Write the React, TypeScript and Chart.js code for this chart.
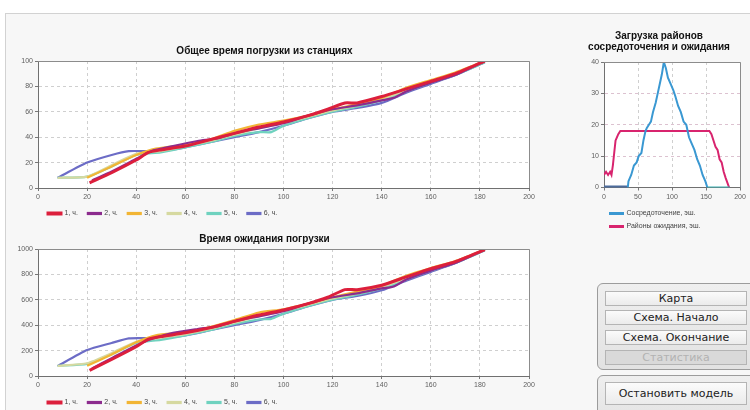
import React, { useEffect, useRef } from "react";
import { Chart, registerables } from "chart.js";

Chart.register(...registerables);
Chart.defaults.font.family = "'Liberation Sans', Arial, sans-serif";

// ---------- data ----------
const seriesLabels = ["1, ч.", "2, ч.", "3, ч.", "4, ч.", "5, ч.", "6, ч."];
const seriesColors = ["#dc1f3c", "#8c2c8e", "#f2b534", "#d6d9a0", "#6fd2bf", "#6c6cc6"];
const seriesWidths = [3, 2.2, 2.2, 2.2, 2.2, 2.2];

// Общее время погрузки из станциях (0..100)
const total1: [number, number][] = [[21, 4], [30, 12], [40, 22], [45, 28], [50, 30], [60, 33], [70, 38], [80, 43], [90, 48], [100, 52], [110, 57], [118, 62], [125, 67], [130, 67], [140, 72], [150, 78], [160, 84], [170, 90], [182, 100]];
const total2: [number, number][] = [[22, 6], [30, 13], [40, 23], [46, 29], [55, 33], [65, 37], [73, 39], [80, 43], [90, 47], [100, 51], [110, 57], [120, 62], [130, 65], [140, 69], [145, 71], [150, 76], [160, 83], [170, 89], [182, 100]];
const total3: [number, number][] = [[20, 8], [30, 17], [40, 26], [48, 31], [60, 34], [70, 38], [80, 45], [90, 50], [100, 53], [110, 57], [120, 62], [130, 66], [140, 71], [150, 79], [160, 85], [170, 91], [182, 100]];
const total4: [number, number][] = [[8, 8], [20, 9], [30, 18], [40, 27], [50, 29], [60, 33], [70, 37], [80, 42], [90, 47], [100, 51], [110, 56], [120, 61], [130, 65], [140, 70], [150, 77], [160, 84], [170, 90], [182, 100]];
const total5: [number, number][] = [[8, 8], [20, 9], [30, 17], [40, 26], [50, 28], [60, 32], [70, 36], [80, 41], [90, 44], [95, 44], [100, 49], [110, 55], [120, 60], [130, 64], [140, 69], [150, 76], [160, 83], [170, 89], [182, 99]];
const total6: [number, number][] = [[8, 8], [20, 20], [30, 26], [37, 29], [44, 29], [50, 29], [60, 32], [70, 36], [80, 40], [90, 44], [100, 49], [110, 55], [120, 60], [130, 63], [140, 67], [150, 75], [160, 82], [170, 89], [182, 99]];

// Время ожидания погрузки (0..1000)
const wait1: [number, number][] = [[21, 45], [30, 130], [40, 230], [45, 290], [50, 310], [60, 340], [70, 380], [80, 430], [90, 480], [100, 520], [110, 570], [118, 620], [125, 680], [130, 680], [140, 715], [150, 780], [160, 845], [170, 900], [182, 995]];
const wait2: [number, number][] = [[22, 60], [30, 140], [40, 240], [46, 290], [55, 340], [65, 370], [73, 390], [80, 430], [90, 470], [100, 510], [110, 570], [120, 620], [130, 650], [140, 690], [145, 705], [150, 760], [160, 830], [170, 890], [182, 995]];
const wait3: [number, number][] = [[20, 80], [30, 170], [40, 265], [48, 320], [60, 345], [70, 385], [80, 440], [90, 500], [100, 525], [110, 570], [120, 620], [130, 665], [140, 710], [150, 790], [160, 850], [170, 905], [182, 995]];
const wait4: [number, number][] = [[8, 80], [20, 100], [30, 180], [40, 270], [50, 300], [60, 330], [70, 370], [80, 420], [90, 470], [100, 510], [110, 560], [120, 610], [130, 650], [140, 700], [150, 770], [160, 840], [170, 900], [182, 995]];
const wait5: [number, number][] = [[8, 80], [20, 95], [30, 170], [40, 260], [50, 285], [60, 320], [70, 360], [80, 410], [90, 445], [95, 450], [100, 490], [110, 550], [120, 600], [130, 640], [140, 690], [150, 760], [160, 830], [170, 890], [182, 990]];
const wait6: [number, number][] = [[8, 78], [20, 204], [30, 260], [37, 296], [44, 298], [50, 300], [60, 320], [70, 360], [80, 400], [90, 440], [100, 490], [110, 550], [120, 600], [130, 630], [140, 675], [150, 750], [160, 820], [170, 890], [182, 990]];

const totalSeries = [total1, total2, total3, total4, total5, total6];
const waitSeries = [wait1, wait2, wait3, wait4, wait5, wait6];

// Загрузка районов сосредоточения и ожидания
const areaLabels = ["Сосредоточение, эш.", "Районы ожидания, эш."];
const concentration: [number, number][] = [[0, 0], [35, 0], [36, 2], [40, 4], [44, 7], [48, 8], [51, 10], [55, 11], [58, 15], [61, 18], [63, 19], [66, 20], [69, 21], [72, 24], [76, 27], [79, 30], [82, 33], [85, 36], [88, 40], [91, 38], [94, 35], [98, 33], [102, 31], [105, 29], [109, 26], [113, 24], [117, 21], [121, 20], [125, 16], [129, 14], [133, 12], [137, 9], [141, 7], [145, 4], [149, 2], [152, 0], [185, 0]];
const waiting: [number, number][] = [[0, 4], [3, 5], [6, 4], [9, 5], [11, 4], [13, 7], [15, 11], [17, 15], [19, 16], [21, 17], [24, 18], [155, 18], [158, 17], [161, 15], [164, 13], [167, 12], [170, 9], [173, 8], [176, 5], [179, 3], [184, 0]];
const areaColors = ["#3a98d2", "#d8246e"];

// axes
const mainXMax = 200, mainXStep = 20;
const totalYMax = 100, totalYStep = 20;
const waitYMax = 1000, waitYStep = 200;
const areaXMax = 200, areaXStep = 50;
const areaYMax = 40, areaYStep = 10;

// ---------- helpers ----------
const plotFrame = {
  id: "plotFrame",
  beforeDraw(chart: any) {
    const { ctx, chartArea: a } = chart;
    ctx.save();
    ctx.fillStyle = "#ffffff";
    ctx.fillRect(a.left, a.top, a.right - a.left, a.bottom - a.top);
    ctx.restore();
  },
  afterDraw(chart: any) {
    const { ctx, chartArea: a } = chart;
    ctx.save();
    ctx.strokeStyle = "#8c8c8c";
    ctx.lineWidth = 1;
    ctx.beginPath();
    ctx.moveTo(a.left, a.top + 0.5);
    ctx.lineTo(a.right + 0.5, a.top + 0.5);
    ctx.lineTo(a.right + 0.5, a.bottom);
    ctx.stroke();
    ctx.restore();
  },
};

const toXY = (pts: [number, number][]) => pts.map(([x, y]) => ({ x, y }));

function axis(max: number, step: number, fitW?: number, fitH?: number) {
  return {
    type: "linear",
    min: 0,
    max,
    ticks: {
      stepSize: step,
      font: { size: 7 },
      color: "#606060",
      padding: 2,
      callback: (v: any) => String(v),
    },
    grid: { color: "#cfcfcf", tickLength: 3, tickColor: "#777" },
    border: { color: "#707070", width: 1, dash: [3, 3] },
    afterFit: (s: any) => {
      if (fitW !== undefined) s.width = fitW;
      if (fitH !== undefined) s.height = fitH;
    },
  };
}

function mainConfig(title: string, series: [number, number][][], yMax: number, yStep: number, xAxisH: number): any {
  return {
    type: "line",
    data: {
      datasets: series.map((pts, i) => ({
        label: seriesLabels[i],
        data: toXY(pts),
        borderColor: seriesColors[i],
        backgroundColor: seriesColors[i],
        borderWidth: seriesWidths[i],
        pointRadius: 0,
        tension: 0.2,
      })),
    },
    options: {
      responsive: false,
      animation: false,
      layout: { padding: { left: 0, right: 16, top: 0, bottom: 0 } },
      plugins: {
        title: {
          display: true,
          text: title,
          color: "#111",
          font: { size: 10, weight: "bold", lineHeight: 1.2 },
          padding: { top: 3, bottom: 4 },
        },
        legend: {
          position: "bottom",
          align: "start",
          fullSize: false,
          labels: { boxWidth: 13, boxHeight: 1, font: { size: 7 }, padding: 10, color: "#444" },
        },
        tooltip: { enabled: false },
      },
      scales: {
        x: axis(mainXMax, mainXStep, undefined, xAxisH),
        y: axis(yMax, yStep, 38, undefined),
      },
    },
    plugins: [plotFrame],
  };
}

function areaConfig(): any {
  return {
    type: "line",
    data: {
      datasets: [
        {
          label: areaLabels[0],
          data: toXY(concentration),
          borderColor: areaColors[0],
          backgroundColor: areaColors[0],
          borderWidth: 2,
          pointRadius: 0,
          segment: {
            borderColor: (c: any) =>
              c.p1.parsed.x <= 35 ? "#4d6c9c" : c.p0.parsed.x >= 150 ? "#3bb2b4" : undefined,
            borderWidth: (c: any) => (c.p1.parsed.x <= 35 ? 4 : undefined),
          },
        },
        {
          label: areaLabels[1],
          data: toXY(waiting),
          borderColor: areaColors[1],
          backgroundColor: areaColors[1],
          borderWidth: 2,
          pointRadius: 0,
        },
      ],
    },
    options: {
      responsive: false,
      animation: false,
      layout: { padding: { left: 0, right: 10, top: 0, bottom: 0 } },
      plugins: {
        title: {
          display: true,
          text: ["Загрузка районов", "сосредоточения и ожидания"],
          color: "#111",
          font: { size: 10, weight: "bold", lineHeight: 1.1 },
          padding: { top: 2.5, bottom: 9.5 },
        },
        legend: {
          position: "bottom",
          align: "start",
          fullSize: false,
          labels: { boxWidth: 13, boxHeight: 1, font: { size: 7 }, padding: 6, color: "#444" },
        },
        tooltip: { enabled: false },
      },
      scales: {
        x: axis(areaXMax, areaXStep, undefined, 16.5),
        y: { ...axis(areaYMax, areaYStep, 26, undefined), grid: { color: "#dcc2d0", tickLength: 3, tickColor: "#777" } },
      },
    },
    plugins: [plotFrame],
  };
}

function ChartCanvas({ config, left, top, width, height }: any) {
  const ref = useRef<HTMLCanvasElement>(null);
  useEffect(() => {
    const chart = new Chart(ref.current as HTMLCanvasElement, config);
    return () => chart.destroy();
  }, []);
  return (
    <canvas
      ref={ref}
      width={width}
      height={height}
      style={{ position: "absolute", left, top, width, height }}
    />
  );
}

const btnBase: React.CSSProperties = {
  position: "absolute",
  left: 7,
  width: 142,
  boxSizing: "border-box",
  border: "1px solid #b4b4b4",
  background: "linear-gradient(#fbfbfb, #ebebeb)",
  fontFamily: "'DejaVu Sans', sans-serif",
  fontSize: 11,
  color: "#222",
  textAlign: "center",
  whiteSpace: "nowrap",
};

export default function App() {
  const buttons = [
    { text: "Карта", top: 7, disabled: false },
    { text: "Схема. Начало", top: 26, disabled: false },
    { text: "Схема. Окончание", top: 46, disabled: false },
    { text: "Статистика", top: 66, disabled: true },
  ];
  return (
    <div style={{ position: "fixed", left: 0, top: 0, width: 750, height: 410, overflow: "hidden", background: "#fff" }}>
      <div
        style={{
          position: "absolute",
          left: 5,
          top: 13,
          width: 760,
          height: 420,
          borderTop: "1px solid #d2d2d2",
          borderLeft: "1px solid #d2d2d2",
          background: "#f7f7f7",
        }}
      />
      <ChartCanvas
        config={mainConfig("Общее время погрузки из станциях", totalSeries, totalYMax, totalYStep, 12)}
        left={0}
        top={42}
        width={545}
        height={185}
      />
      <ChartCanvas
        config={mainConfig("Время ожидания погрузки", waitSeries, waitYMax, waitYStep, 13)}
        left={0}
        top={230}
        width={545}
        height={186}
      />
      <ChartCanvas config={areaConfig()} left={578} top={28} width={172} height={212} />

      <div
        style={{
          position: "absolute",
          left: 597,
          top: 283,
          width: 170,
          height: 87,
          boxSizing: "border-box",
          border: "1px solid #9c9c9c",
          borderRadius: 6,
          background: "linear-gradient(#efefef, #e2e2e2)",
        }}
      >
        {buttons.map((b) => (
          <div
            key={b.text}
            style={{
              ...btnBase,
              top: b.top,
              height: 15,
              lineHeight: "13px",
              background: b.disabled ? "#d9d9d9" : btnBase.background,
              color: b.disabled ? "#b2b2b2" : "#222",
            }}
          >
            {b.text}
          </div>
        ))}
      </div>
      <div
        style={{
          position: "absolute",
          left: 597,
          top: 375,
          width: 170,
          height: 50,
          boxSizing: "border-box",
          border: "1px solid #9c9c9c",
          borderRadius: 6,
          background: "linear-gradient(#efefef, #e2e2e2)",
        }}
      >
        <div style={{ ...btnBase, top: 6, height: 23, lineHeight: "21px" }}>Остановить модель</div>
      </div>
    </div>
  );
}
